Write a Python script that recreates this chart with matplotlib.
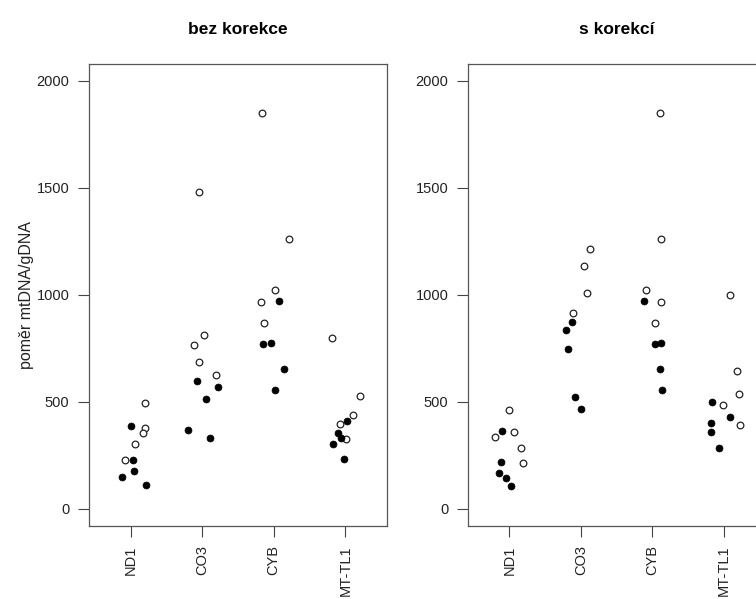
import numpy as np
import matplotlib
matplotlib.use('Agg')
from matplotlib import pyplot as plt

plt.rcParams['font.family'] = ['Liberation Sans', 'DejaVu Sans']

genes = ['ND1', 'CO3', 'CYB', 'MT-TL1']
titles = ['bez korekce', 's korekcí']
ylabel = 'poměr mtDNA/gDNA'

# panel 1: bez korekce (x = gene position incl. jitter)
raw_open_x = [1.20, 1.20, 1.176, 1.056, 0.92,
              2.028, 1.884, 1.954, 2.191, 1.954,
              2.837, 3.209, 3.014, 2.823, 2.865,
              3.819, 4.199, 4.112, 3.93, 4.004]
raw_open_y = [494, 380, 355, 302, 226,
              814, 765, 684, 625, 1481,
              1849, 1262, 1022, 966, 869,
              798, 525, 438, 396, 326]
raw_fill_x = [1.004, 1.028, 1.05, 0.879, 1.213,
              1.93, 2.215, 2.061, 1.80, 2.107,
              3.08, 2.856, 2.962, 3.149, 3.014,
              4.028, 3.893, 3.934, 3.833, 3.98]
raw_fill_y = [386, 230, 178, 151, 111,
              598, 570, 515, 369, 332,
              972, 768, 773, 654, 555,
              411, 354, 333, 301, 235]

# panel 2: s korekcí
cor_open_x = [0.996, 1.07, 0.804, 1.164, 1.187,
              2.126, 2.05, 2.084, 1.888,
              3.104, 3.126, 2.912, 3.126, 3.034,
              4.088, 4.187, 4.21, 3.99, 4.22]
cor_open_y = [464, 357, 335, 284, 215,
              1215, 1136, 1009, 917,
              1849, 1262, 1022, 966, 869,
              997, 645, 536, 483, 394]
cor_fill_x = [0.892, 0.878, 0.86, 0.948, 1.018,
              1.882, 1.79, 1.826, 1.924, 2.008,
              2.884, 3.034, 3.126, 3.112, 3.132,
              3.827, 4.084, 3.818, 3.818, 3.934]
cor_fill_y = [363, 218, 168, 143, 106,
              874, 835, 746, 523, 467,
              972, 768, 773, 654, 555,
              501, 430, 402, 360, 284]

fig = plt.figure(figsize=(7.56, 5.99), dpi=100)
ax1 = fig.add_axes([0.1177, 0.1219, 0.394, 0.772])
ax2 = fig.add_axes([0.6187, 0.1219, 0.394, 0.772])

panels = [(ax1, raw_open_x, raw_open_y, raw_fill_x, raw_fill_y),
          (ax2, cor_open_x, cor_open_y, cor_fill_x, cor_fill_y)]

for k, (ax, ox, oy, fx, fy) in enumerate(panels):
    ax.plot(ox, oy, 'o', ls='none', ms=4.8, mfc='white', mec='#222222', mew=0.9)
    ax.plot(fx, fy, 'o', ls='none', ms=5.0, mfc='black', mec='black', mew=0.5)
    ax.set_xlim(0.42, 4.58)
    ax.set_ylim(-80, 2080)
    ax.set_xticks(np.arange(1, len(genes) + 1))
    ax.set_xticklabels(genes, rotation=90, va='top')
    ax.set_yticks([0, 500, 1000, 1500, 2000])
    ax.tick_params(axis='both', length=8, width=0.8, color='#444444',
                   labelsize=10.5, pad=6, labelcolor='#222222')
    for sp in ax.spines.values():
        sp.set_color('#555555')
        sp.set_linewidth(0.9)
    ax.set_title(titles[k], fontsize=12.5, fontweight='bold', pad=21)

ax1.set_ylabel(ylabel, fontsize=11.5, labelpad=2, color='#222222')

fig.savefig('out.png', dpi=100)
